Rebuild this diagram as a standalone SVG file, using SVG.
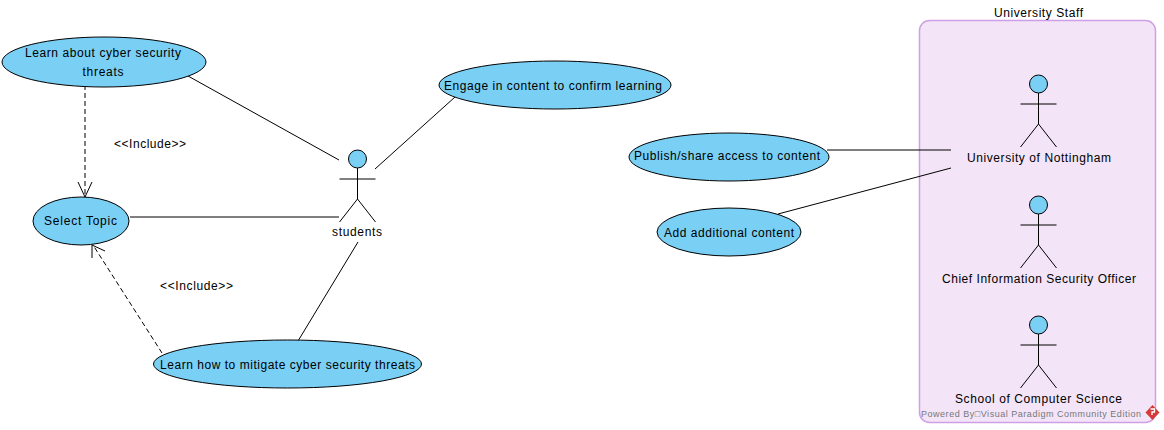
<svg xmlns="http://www.w3.org/2000/svg" width="1164" height="430" viewBox="0 0 1164 430">
<style>
text{font-family:"Liberation Sans",Arial,sans-serif;font-size:12px;fill:#000;text-anchor:middle}
.uc{fill:#7acff5;stroke:#000;stroke-width:1}
.a{fill:none;stroke:#000;stroke-width:1}
.d{stroke-dasharray:5 3}
.wm{font-size:9px;fill:#777;text-anchor:start}
</style>
<defs>
<g id="actor"><circle class="uc" cx="0" cy="9" r="9"/><path class="a" d="M0 18V49M-18 29H18M0 49L-18 72M0 49L18 72"/></g>
</defs>
<rect width="1164" height="430" fill="#fff"/>
<g id="pool"><rect x="919.5" y="20.5" width="236" height="402" rx="10" fill="#f3e5f7" stroke="#cf9fe6" stroke-width="1.5"/><text x="1038.5" y="17" textLength="89">University Staff</text></g>
<g id="connectors">
<path class="a" d="M188 76L339 160M375 169L455 97M130 217H339M358 242L298 341M827 150H951M778 214L951 168"/>
<path class="a d" d="M85 85V196M162 353L93 245"/>
<path class="a" d="M78 182L85 197L92 182M92 258L92 245L105 251"/>
</g>
<g id="uc1"><ellipse class="uc" cx="104" cy="62" rx="102" ry="25"/><text x="103" y="57" textLength="156">Learn about cyber security</text><text x="103" y="76" textLength="41">threats</text></g>
<g id="uc2"><ellipse class="uc" cx="81" cy="221" rx="48" ry="24"/><text x="80.5" y="225" textLength="73">Select Topic</text></g>
<g id="uc3"><ellipse class="uc" cx="287.500" cy="364" rx="134" ry="24"/><text x="287.500" y="369" textLength="255">Learn how to mitigate cyber security threats</text></g>
<g id="uc4"><ellipse class="uc" cx="555" cy="85" rx="116" ry="24"/><text x="553" y="90" textLength="218">Engage in content to confirm learning</text></g>
<g id="uc5"><ellipse class="uc" cx="729" cy="157" rx="100" ry="24"/><text x="727" y="160" textLength="186">Publish/share access to content</text></g>
<g id="uc6"><ellipse class="uc" cx="729" cy="232" rx="72" ry="24"/><text x="729" y="237" textLength="130">Add additional content</text></g>
<g id="students"><use href="#actor" x="357.500" y="150"/><text x="357" y="236" textLength="50">students</text></g>
<g id="uon"><use href="#actor" x="1038.500" y="75"/><text x="1039" y="162" textLength="144">University of Nottingham</text></g>
<g id="ciso"><use href="#actor" x="1038.500" y="196"/><text x="1039" y="283" textLength="194">Chief Information Security Officer</text></g>
<g id="scs"><use href="#actor" x="1038.500" y="316"/><text x="1038.500" y="403" textLength="167">School of Computer Science</text></g>
<text x="150" y="148" textLength="72">&lt;&lt;Include&gt;&gt;</text>
<text x="196.500" y="290" textLength="73">&lt;&lt;Include&gt;&gt;</text>
<text class="wm" x="921" y="417" textLength="220">Powered By□Visual Paradigm Community Edition</text>
<path d="M1152.500 405l7 7.500-7 7.500-7-7.500z" fill="#d43a3a"/>
<path d="M1150.500 409h4v3h-2.500v3" fill="none" stroke="#fff" stroke-width="1.300"/>
</svg>
